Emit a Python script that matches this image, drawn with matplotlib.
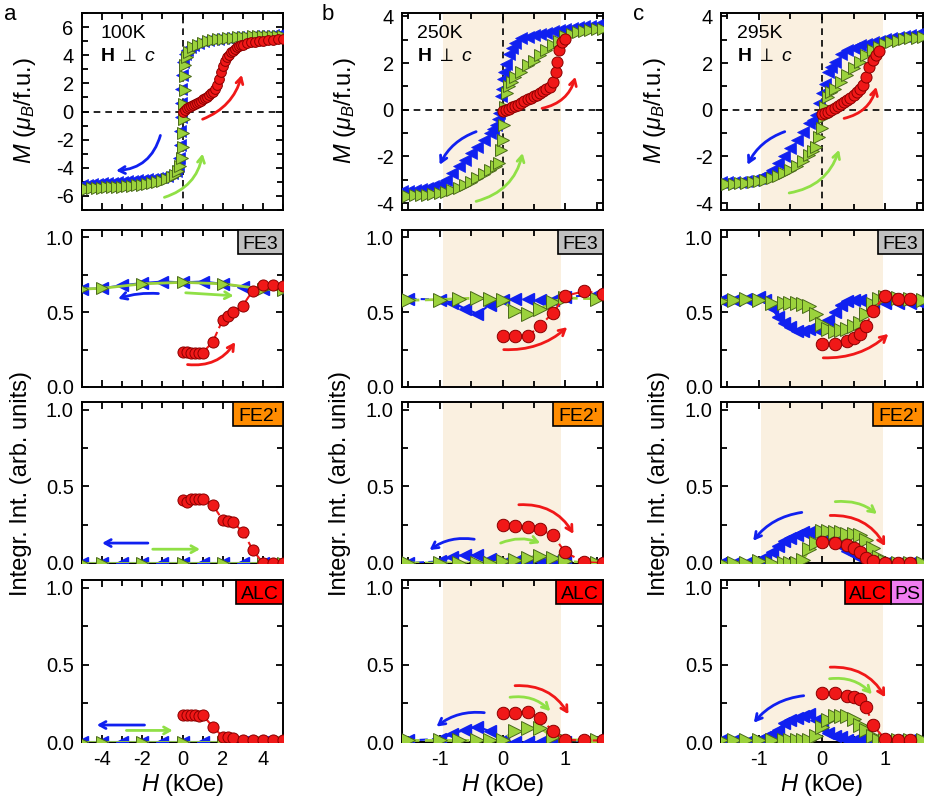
import matplotlib
matplotlib.use('Agg')
import matplotlib.pyplot as plt
from matplotlib.patches import Rectangle
from matplotlib.ticker import MultipleLocator

plt.rcParams['font.family'] = ['Liberation Sans', 'DejaVu Sans']
plt.rcParams['mathtext.fontset'] = 'custom'
plt.rcParams['mathtext.rm'] = 'Liberation Sans'
plt.rcParams['mathtext.it'] = 'Liberation Sans:italic'
plt.rcParams['mathtext.bf'] = 'Liberation Sans:bold'
plt.rcParams['axes.unicode_minus'] = False

BLUE = '#1020f0'
GREEN = '#9bd23c'
GREEN_EDGE = '#4a6a1a'
GREEN_ARROW = '#90e046'
RED = '#f01818'
RED_EDGE = '#8a0000'
SHADE = '#faf0e0'

# ---- magnetisation loops M(H) ----
# 100 K
Ha_dn = [5.0, 4.75, 4.5, 4.25, 4.0, 3.75, 3.5, 3.25, 3.0, 2.75, 2.5, 2.25, 2.0, 1.75, 1.5, 1.25, 1.0, 0.75, 0.5,
         0.35, 0.2, 0.1, 0.02, -0.02, -0.05, -0.07, -0.09, -0.11, -0.13, -0.15, -0.2, -0.3, -0.5, -0.75, -1.0,
         -1.25, -1.5, -1.75, -2.0, -2.25, -2.5, -2.75, -3.0, -3.25, -3.5, -3.75, -4.0, -4.25, -4.5, -4.75, -5.0]
Ma_dn = [5.45, 5.43, 5.41, 5.39, 5.38, 5.36, 5.34, 5.32, 5.3, 5.28, 5.26, 5.23, 5.2, 5.16, 5.12, 5.06, 5.0, 4.9,
         4.75, 4.6, 4.4, 4.1, 3.5, 2.6, 1.6, 0.6, -0.4, -1.4, -2.4, -3.3, -3.9, -4.2, -4.4, -4.55, -4.65,
         -4.72, -4.78, -4.83, -4.87, -4.9, -4.93, -4.96, -4.99, -5.02, -5.05, -5.08, -5.1, -5.13, -5.16, -5.19, -5.22]
Ha_up = [-5.0, -4.75, -4.5, -4.25, -4.0, -3.75, -3.5, -3.25, -3.0, -2.75, -2.5, -2.25, -2.0, -1.75, -1.5, -1.25,
         -1.0, -0.75, -0.5, -0.35, -0.2, -0.1, -0.02, 0.02, 0.04, 0.06, 0.08, 0.1, 0.12, 0.14, 0.2, 0.3, 0.5,
         0.75, 1.0, 1.25, 1.5, 1.75, 2.0, 2.25, 2.5, 2.75, 3.0, 3.25, 3.5, 3.75, 4.0, 4.25, 4.5, 4.75, 5.0]
Ma_up = [-5.5, -5.48, -5.46, -5.44, -5.42, -5.4, -5.38, -5.36, -5.33, -5.3, -5.27, -5.23, -5.19, -5.14, -5.08,
         -5.01, -4.93, -4.8, -4.63, -4.48, -4.25, -3.9, -3.3, -2.5, -1.5, -0.5, 0.5, 1.5, 2.5, 3.3, 3.9, 4.25,
         4.55, 4.75, 4.9, 5.0, 5.07, 5.13, 5.18, 5.22, 5.25, 5.28, 5.3, 5.32, 5.34, 5.35, 5.36, 5.37, 5.38, 5.39, 5.4]
Ha_vg = [0.0, 0.1, 0.2, 0.3, 0.4, 0.5, 0.6, 0.7, 0.8, 0.9, 1.0, 1.1, 1.2, 1.3, 1.4, 1.5, 1.6, 1.7, 1.8, 1.9, 2.0,
         2.1, 2.2, 2.3, 2.4, 2.5, 2.6, 2.7, 2.8, 2.9, 3.0, 3.2, 3.4, 3.6, 3.8, 4.0, 4.25, 4.5, 4.75, 5.0]
Ma_vg = [0.0, 0.12, 0.22, 0.3, 0.38, 0.46, 0.54, 0.62, 0.7, 0.78, 0.86, 0.95, 1.05, 1.15, 1.28, 1.42, 1.62, 1.9,
         2.3, 2.8, 3.25, 3.6, 3.85, 4.05, 4.2, 4.33, 4.45, 4.55, 4.63, 4.7, 4.76, 4.85, 4.92, 4.97, 5.01, 5.04,
         5.07, 5.1, 5.12, 5.14]

# 250 K
Hb_dn = [1.6, 1.5, 1.4, 1.3, 1.2, 1.1, 1.0, 0.9, 0.8, 0.7, 0.6, 0.5, 0.4, 0.3, 0.2, 0.15, 0.1, 0.06, 0.03, 0.01,
         -0.01, -0.03, -0.05, -0.07, -0.1, -0.15, -0.2, -0.3, -0.4, -0.5, -0.6, -0.7, -0.8, -0.9, -1.0, -1.1,
         -1.2, -1.3, -1.4, -1.5, -1.6]
Mb_dn = [3.66, 3.64, 3.61, 3.58, 3.55, 3.51, 3.47, 3.42, 3.37, 3.31, 3.26, 3.2, 3.14, 3.06, 2.85, 2.65, 2.4, 1.95,
         1.6, 1.3, 0.9, 0.6, -0.15, -0.4, -0.65, -0.82, -0.98, -1.3, -1.58, -1.86, -2.15, -2.43, -2.72, -3.0,
         -3.18, -3.28, -3.35, -3.4, -3.44, -3.47, -3.5]
Hb_up = [-1.6, -1.5, -1.4, -1.3, -1.2, -1.1, -1.0, -0.9, -0.8, -0.7, -0.6, -0.5, -0.4, -0.3, -0.2, -0.1, -0.05,
         -0.02, 0.0, 0.02, 0.04, 0.07, 0.1, 0.15, 0.2, 0.3, 0.4, 0.5, 0.6, 0.7, 0.8, 0.9, 1.0, 1.1, 1.2, 1.3,
         1.4, 1.5, 1.6]
Mb_up = [-3.7, -3.69, -3.67, -3.66, -3.64, -3.61, -3.57, -3.51, -3.43, -3.34, -3.22, -3.08, -2.93, -2.77, -2.58,
         -2.42, -2.3, -1.72, -1.3, -0.65, 0.13, 0.7, 1.0, 1.2, 1.4, 1.62, 1.9, 2.1, 2.33, 2.55, 2.76, 2.97, 3.15,
         3.26, 3.33, 3.39, 3.43, 3.46, 3.48]
Hb_vg = [0.0, 0.05, 0.1, 0.15, 0.2, 0.25, 0.3, 0.35, 0.4, 0.45, 0.5, 0.55, 0.6, 0.65, 0.7, 0.75, 0.8, 0.85,
         0.87, 0.9, 0.95, 1.0]
Mb_vg = [-0.05, 0.0, 0.05, 0.1, 0.15, 0.22, 0.3, 0.37, 0.44, 0.51, 0.58, 0.65, 0.72, 0.8, 0.88, 0.98, 1.2, 1.62,
         2.05, 2.55, 2.9, 3.05]

# 295 K
Hc_dn = [1.6, 1.5, 1.4, 1.3, 1.2, 1.1, 1.0, 0.9, 0.8, 0.7, 0.6, 0.5, 0.4, 0.3, 0.2, 0.15, 0.1, 0.05, 0.0, -0.05,
         -0.1, -0.15, -0.2, -0.3, -0.4, -0.5, -0.6, -0.7, -0.8, -0.9, -1.0, -1.1, -1.2, -1.3, -1.4, -1.5, -1.6]
Mc_dn = [3.26, 3.23, 3.2, 3.16, 3.12, 3.07, 3.02, 2.96, 2.9, 2.83, 2.76, 2.66, 2.55, 2.4, 2.05, 1.85, 1.62, 1.12,
         0.7, 0.27, -0.23, -0.42, -0.58, -0.94, -1.3, -1.65, -2.0, -2.3, -2.58, -2.8, -2.93, -3.01, -3.06, -3.08,
         -3.09, -3.1, -3.11]
Hc_up = [-1.6, -1.5, -1.4, -1.3, -1.2, -1.1, -1.0, -0.9, -0.8, -0.7, -0.6, -0.5, -0.4, -0.3, -0.2, -0.15, -0.1,
         -0.05, 0.0, 0.03, 0.05, 0.1, 0.15, 0.2, 0.3, 0.4, 0.5, 0.6, 0.7, 0.8, 0.9, 1.0, 1.1, 1.2, 1.3, 1.4, 1.5, 1.6]
Mc_up = [-3.2, -3.19, -3.18, -3.16, -3.15, -3.11, -3.07, -3.01, -2.93, -2.83, -2.72, -2.59, -2.43, -2.2, -1.94,
         -1.78, -1.58, -1.15, -0.8, -0.3, 0.13, 0.55, 0.75, 0.91, 1.2, 1.48, 1.77, 2.05, 2.33, 2.55, 2.69, 2.83,
         2.91, 2.97, 3.02, 3.06, 3.09, 3.12]
Hc_vg = [0.0, 0.05, 0.1, 0.15, 0.2, 0.25, 0.3, 0.35, 0.4, 0.45, 0.5, 0.55, 0.6, 0.65, 0.7, 0.75, 0.8, 0.85, 0.9]
Mc_vg = [-0.2, -0.14, -0.08, -0.01, 0.06, 0.14, 0.23, 0.32, 0.42, 0.52, 0.63, 0.76, 0.88, 1.05, 1.4, 1.84, 2.15,
         2.35, 2.5]

# ---- integrated intensities ----
# 100 K
Ia_dn = [5, 4, 3, 2, 1, 0, -1, -2, -3, -4, -5]
Ia_up = [-5, -4, -2, 0, 2, 4, 5]
Ia_vg = [0.0, 0.2, 0.4, 0.6, 0.8, 1.0, 1.5, 2.0, 2.25, 2.5, 3.0, 3.5, 4.0, 4.5, 5.0]
FE3_a_dn = [0.65, 0.655, 0.67, 0.69, 0.705, 0.70, 0.705, 0.695, 0.68, 0.66, 0.655]
FE3_a_up = [0.655, 0.66, 0.69, 0.70, 0.69, 0.655, 0.65]
FE3_a_vg = [0.235, 0.235, 0.23, 0.23, 0.23, 0.23, 0.30, 0.45, 0.475, 0.50, 0.545, 0.645, 0.685, 0.685, 0.675]
FE2_a_dn = [0.0, 0.0, 0.0, 0.0, 0.0, 0.0, 0.0, 0.0, 0.0, 0.0, 0.0]
FE2_a_up = [0.0, 0.0, 0.0, 0.0, 0.0, 0.0, 0.0]
FE2_a_vg = [0.41, 0.40, 0.42, 0.415, 0.415, 0.42, 0.38, 0.28, 0.275, 0.265, 0.205, 0.085, 0.0, 0.0, 0.0]
ALC_a_dn = [0.0, 0.0, 0.0, 0.0, 0.0, 0.0, 0.0, 0.0, 0.0, 0.0, 0.0]
ALC_a_up = [0.0, 0.0, 0.0, 0.0, 0.0, 0.0, 0.0]
ALC_a_vg = [0.175, 0.175, 0.175, 0.175, 0.17, 0.175, 0.10, 0.035, 0.03, 0.025, 0.015, 0.015, 0.015, 0.01, 0.01]

# 250 K
Ib_dn = [1.5, 1.0, 0.8, 0.6, 0.4, 0.2, 0.0, -0.2, -0.4, -0.6, -0.8, -1.0, -1.5]
Ib_up = [-1.5, -1.0, -0.7, -0.4, -0.2, 0.0, 0.2, 0.4, 0.6, 0.8, 1.0, 1.5]
Ib_vg = [0.0, 0.2, 0.4, 0.6, 0.8, 1.0, 1.3, 1.6]
FE3_b_dn = [0.62, 0.60, 0.58, 0.58, 0.59, 0.59, 0.585, 0.55, 0.49, 0.525, 0.565, 0.585, 0.59]
FE3_b_up = [0.58, 0.585, 0.59, 0.595, 0.59, 0.58, 0.505, 0.485, 0.52, 0.57, 0.595, 0.59]
FE3_b_vg = [0.34, 0.34, 0.34, 0.41, 0.495, 0.61, 0.64, 0.625]
FE2_b_dn = [0.0, 0.005, 0.01, 0.015, 0.01, 0.01, 0.0, 0.027, 0.05, 0.055, 0.04, 0.01, 0.0]
FE2_b_up = [0.0, 0.0, 0.0, 0.0, 0.0, 0.01, 0.02, 0.035, 0.045, 0.033, 0.01, 0.0]
FE2_b_vg = [0.245, 0.24, 0.235, 0.22, 0.18, 0.07, 0.005, 0.0]
ALC_b_dn = [0.01, 0.0, 0.0, 0.0, 0.0, 0.0, 0.01, 0.07, 0.10, 0.08, 0.05, 0.02, 0.01]
ALC_b_up = [0.01, 0.01, 0.01, 0.01, 0.01, 0.015, 0.07, 0.09, 0.09, 0.035, 0.015, 0.01]
ALC_b_vg = [0.185, 0.19, 0.195, 0.155, 0.07, 0.015, 0.01, 0.01]

# 295 K
Ic_dn = [1.6, 1.4, 1.2, 1.0, 0.8, 0.6, 0.5, 0.4, 0.3, 0.2, 0.1, 0.0, -0.1, -0.2, -0.3, -0.4, -0.5, -0.6, -0.7,
         -0.8, -0.9, -1.0, -1.2, -1.4, -1.6]
Ic_up = [-1.6, -1.4, -1.2, -1.0, -0.8, -0.6, -0.5, -0.4, -0.3, -0.2, -0.1, 0.0, 0.1, 0.2, 0.3, 0.4, 0.5, 0.6,
         0.7, 0.8, 0.9, 1.0, 1.2, 1.4, 1.6]
Ic_vg = [0.0, 0.2, 0.4, 0.5, 0.6, 0.7, 0.8, 1.0, 1.2, 1.4]
FE3_c_dn = [0.555, 0.56, 0.56, 0.56, 0.57, 0.58, 0.585, 0.575, 0.55, 0.50, 0.45, 0.41, 0.39, 0.385, 0.375, 0.375,
            0.40, 0.43, 0.47, 0.53, 0.58, 0.60, 0.59, 0.585, 0.58]
FE3_c_up = [0.575, 0.58, 0.59, 0.585, 0.565, 0.56, 0.56, 0.56, 0.555, 0.54, 0.49, 0.42, 0.39, 0.375, 0.38, 0.39,
            0.41, 0.43, 0.49, 0.555, 0.59, 0.60, 0.595, 0.59, 0.58]
FE3_c_vg = [0.285, 0.285, 0.31, 0.33, 0.355, 0.41, 0.51, 0.61, 0.59, 0.59]
FE2_c_dn = [0.0, 0.0, 0.0, 0.0, 0.01, 0.035, 0.06, 0.08, 0.11, 0.14, 0.17, 0.195, 0.2, 0.2, 0.2, 0.185, 0.165,
            0.145, 0.11, 0.07, 0.04, 0.015, 0.0, 0.0, 0.0]
FE2_c_up = [0.0, 0.0, 0.0, 0.015, 0.0, 0.0, 0.0, 0.0, 0.02, 0.09, 0.13, 0.21, 0.21, 0.2, 0.2, 0.19, 0.19, 0.185,
            0.15, 0.10, 0.04, 0.01, 0.0, 0.0, 0.0]
FE2_c_vg = [0.135, 0.13, 0.12, 0.10, 0.07, 0.035, 0.01, 0.0, 0.0, 0.0]
ALC_c_dn = [0.01, 0.01, 0.01, 0.005, 0.0, 0.01, 0.01, 0.015, 0.03, 0.04, 0.06, 0.09, 0.14, 0.18, 0.17, 0.155,
            0.14, 0.12, 0.08, 0.05, 0.03, 0.01, 0.0, 0.01, 0.01]
ALC_c_up = [0.01, 0.01, 0.01, 0.01, 0.01, 0.01, 0.01, 0.01, 0.01, 0.01, 0.04, 0.10, 0.14, 0.17, 0.17, 0.17, 0.15,
            0.11, 0.08, 0.04, 0.01, 0.01, 0.01, 0.01, 0.01]
ALC_c_vg = [0.315, 0.32, 0.30, 0.29, 0.28, 0.23, 0.11, 0.02, 0.01, 0.01]

temps = ['100K', '250K', '295K']
letters = ['a', 'b', 'c']

# ---- layout (pixels) ----
W, HP = 946, 798
fig = plt.figure(figsize=(W / 100, HP / 100), dpi=100)
col_px = [(82, 283), (402, 603), (721, 923)]
row_px = [(13, 210), (230, 387), (402, 563), (580, 742)]


def add_ax(c, r):
    l, rr = col_px[c]
    t, b = row_px[r]
    return fig.add_axes([l / W, 1 - b / HP, (rr - l) / W, (b - t) / HP])


def style(ax):
    for s in ax.spines.values():
        s.set_linewidth(1.4)
    ax.tick_params(which='both', direction='in', top=True, right=True, width=1.3, labelsize=14.5, pad=6)
    ax.tick_params(which='major', length=5)
    ax.tick_params(which='minor', length=4)


def arrow(ax, p0, p1, color, rad=0.0):
    ax.annotate('', xy=p1, xytext=p0,
                arrowprops=dict(arrowstyle='->,head_length=0.45,head_width=0.25', color=color, lw=2,
                                shrinkA=0, shrinkB=0, connectionstyle='arc3,rad=%s' % rad), zorder=8)


def tag(ax, label, fc, w_px, right_px=0, h_px=24):
    pos = ax.get_position()
    aw, ah = pos.width * W, pos.height * HP
    x1 = 1 - right_px / aw
    x0 = x1 - w_px / aw
    y0 = 1 - h_px / ah
    ax.add_patch(Rectangle((x0, y0), w_px / aw, h_px / ah, transform=ax.transAxes, fc=fc, ec='k', lw=1.2,
                           zorder=10, clip_on=False))
    ax.text((x0 + x1) / 2, y0 + 5 / ah, label, transform=ax.transAxes, ha='center', va='baseline',
            fontsize=14, zorder=11)


def mh(ax, Hd, Md, Hu, Mu, Hv, Mv, ms):
    ax.axhline(0, color='k', ls=(0, (4, 3)), lw=1.2, zorder=1)
    ax.axvline(0, color='k', ls=(0, (4, 3)), lw=1.2, zorder=1)
    ax.plot(Hd, Md, ls='none', marker='<', ms=ms, mfc=BLUE, mec=BLUE, mew=0.5, zorder=3)
    ax.plot(Hu, Mu, ls='none', marker='>', ms=ms, mfc=GREEN, mec=GREEN_EDGE, mew=0.7, zorder=4)
    ax.plot(Hv, Mv, ls='none', marker='o', ms=ms - 1, mfc=RED, mec=RED_EDGE, mew=0.7, zorder=5)


def inten(ax, Hd, yd, Hu, yu, Hv, yv, ls, ms):
    ax.plot(Hd, yd, ls=ls, lw=1.5, color=BLUE, marker='<', ms=ms - 1, mfc=BLUE, mec=BLUE, zorder=3)
    ax.plot(Hu, yu, ls=ls, lw=2, color=GREEN, marker='>', ms=ms, mfc=GREEN, mec=GREEN_EDGE, mew=0.7, zorder=4)
    ax.plot(Hv, yv, ls=(0, (4, 2)), lw=1.5, color=RED, marker='o', ms=ms - 1, mfc=RED, mec=RED_EDGE, mew=0.7,
            zorder=5)


mh_data = [(Ha_dn, Ma_dn, Ha_up, Ma_up, Ha_vg, Ma_vg),
           (Hb_dn, Mb_dn, Hb_up, Mb_up, Hb_vg, Mb_vg),
           (Hc_dn, Mc_dn, Hc_up, Mc_up, Hc_vg, Mc_vg)]
int_data = [
    [(Ia_dn, FE3_a_dn, Ia_up, FE3_a_up, Ia_vg, FE3_a_vg),
     (Ia_dn, FE2_a_dn, Ia_up, FE2_a_up, Ia_vg, FE2_a_vg),
     (Ia_dn, ALC_a_dn, Ia_up, ALC_a_up, Ia_vg, ALC_a_vg)],
    [(Ib_dn, FE3_b_dn, Ib_up, FE3_b_up, Ib_vg, FE3_b_vg),
     (Ib_dn, FE2_b_dn, Ib_up, FE2_b_up, Ib_vg, FE2_b_vg),
     (Ib_dn, ALC_b_dn, Ib_up, ALC_b_up, Ib_vg, ALC_b_vg)],
    [(Ic_dn, FE3_c_dn, Ic_up, FE3_c_up, Ic_vg, FE3_c_vg),
     (Ic_dn, FE2_c_dn, Ic_up, FE2_c_up, Ic_vg, FE2_c_vg),
     (Ic_dn, ALC_c_dn, Ic_up, ALC_c_up, Ic_vg, ALC_c_vg)],
]

# arrows: (row, col) -> list of (start, end, color, rad)
arrows = {
    (0, 0): [((-1.1, -1.7), (-3.3, -4.2), BLUE, -0.35), ((-0.9, -6.1), (1.0, -3.0), GREEN_ARROW, 0.3),
             ((1.0, -0.55), (2.95, 2.6), RED, 0.25)],
    (0, 1): [((-0.42, -0.94), (-1.0, -2.36), BLUE, 0.2), ((-0.42, -3.93), (0.32, -1.86), GREEN_ARROW, 0.3),
             ((0.63, 0.06), (1.16, 1.41), RED, 0.3)],
    (0, 2): [((-0.59, -0.94), (-1.18, -2.36), BLUE, 0.2), ((-0.52, -3.57), (0.27, -1.72), GREEN_ARROW, 0.3),
             ((0.35, -0.37), (0.86, 0.98), RED, 0.3)],
    (1, 0): [((-1.2, 0.625), (-3.2, 0.59), BLUE, 0.1), ((0.16, 0.63), (2.54, 0.61), GREEN_ARROW, 0.0),
             ((0.25, 0.15), (2.62, 0.30), RED, 0.3)],
    (1, 1): [((0.02, 0.25), (1.03, 0.4), RED, 0.2)],
    (1, 2): [((0.02, 0.195), (1.05, 0.355), RED, 0.2)],
    (2, 0): [((-1.72, 0.13), (-4.0, 0.13), BLUE, 0.0), ((-1.48, 0.09), (0.87, 0.09), GREEN_ARROW, 0.0)],
    (2, 1): [((-0.45, 0.155), (-1.16, 0.085), BLUE, 0.2), ((-0.03, 0.13), (0.6, 0.13), GREEN_ARROW, -0.2),
             ((0.26, 0.38), (1.13, 0.19), RED, -0.3)],
    (2, 2): [((-0.32, 0.33), (-1.09, 0.145), BLUE, 0.2), ((0.21, 0.40), (0.87, 0.32), GREEN_ARROW, -0.2),
             ((0.13, 0.31), (1.0, 0.11), RED, -0.3)],
    (3, 0): [((-1.89, 0.11), (-4.26, 0.11), BLUE, 0.0), ((-2.79, 0.075), (-0.49, 0.075), GREEN_ARROW, 0.0)],
    (3, 1): [((-0.29, 0.19), (-1.05, 0.10), BLUE, 0.2), ((0.12, 0.29), (0.76, 0.2), GREEN_ARROW, -0.25),
             ((0.2, 0.365), (1.05, 0.18), RED, -0.3)],
    (3, 2): [((-0.29, 0.3), (-1.08, 0.125), BLUE, 0.2), ((0.12, 0.41), (0.79, 0.31), GREEN_ARROW, -0.25),
             ((0.13, 0.485), (1.0, 0.29), RED, -0.3)],
}

shade = [None, (-0.95, 0.93), (-0.97, 0.96)]
temp_x = [0.09, 0.075, 0.08]
tags = [('FE3', '#c0c0c0', 45), ("FE2'", '#ff8c00', 50), ('ALC', '#ff0000', 47)]

for c in range(3):
    # magnetisation panel
    ax = add_ax(c, 0)
    style(ax)
    if shade[c]:
        ax.axvspan(*shade[c], color=SHADE, lw=0, zorder=0)
    mh(ax, *mh_data[c], ms=8 if c == 0 else 9)
    if c == 0:
        ax.set_xlim(-5, 5)
        ax.set_ylim(-7, 7)
        ax.xaxis.set_major_locator(MultipleLocator(2))
        ax.xaxis.set_minor_locator(MultipleLocator(1))
        ax.yaxis.set_major_locator(MultipleLocator(2))
        ax.yaxis.set_minor_locator(MultipleLocator(1))
    else:
        ax.set_xlim(-1.6, 1.6)
        ax.set_ylim(-4.3, 4.15)
        ax.xaxis.set_major_locator(MultipleLocator(1))
        ax.xaxis.set_minor_locator(MultipleLocator(0.5))
        ax.yaxis.set_major_locator(MultipleLocator(2))
        ax.yaxis.set_minor_locator(MultipleLocator(1))
    ax.tick_params(labelbottom=False)
    for p0, p1, col, rad in arrows.get((0, c), []):
        arrow(ax, p0, p1, col, rad)
    ax.text(temp_x[c], 0.94, temps[c], transform=ax.transAxes, ha='left', va='top', fontsize=14)
    ax.text(temp_x[c], 0.82, r'$\mathbf{H}$ $\perp$ $\mathit{c}$', transform=ax.transAxes, ha='left',
            va='top', fontsize=14)

    # intensity panels
    for r in range(3):
        ax = add_ax(c, r + 1)
        style(ax)
        if shade[c]:
            ax.axvspan(*shade[c], color=SHADE, lw=0, zorder=0)
        inten(ax, *int_data[c][r], ls='-' if c == 0 else (0, (4, 2)), ms=9 if c == 0 else 10)
        if c == 0:
            ax.set_xlim(-5, 5)
            ax.xaxis.set_major_locator(MultipleLocator(2))
            ax.xaxis.set_minor_locator(MultipleLocator(1))
        else:
            ax.set_xlim(-1.6, 1.6)
            ax.xaxis.set_major_locator(MultipleLocator(1))
            ax.xaxis.set_minor_locator(MultipleLocator(0.5))
        ax.set_ylim(0, 1.05)
        ax.yaxis.set_major_locator(MultipleLocator(0.5))
        ax.yaxis.set_minor_locator(MultipleLocator(0.25))
        ax.yaxis.set_major_formatter(matplotlib.ticker.FormatStrFormatter('%.1f'))
        if r < 2:
            ax.tick_params(labelbottom=False)
        for p0, p1, col, rad in arrows.get((r + 1, c), []):
            arrow(ax, p0, p1, col, rad)
        name, fc, w = tags[r]
        if c == 2 and r == 2:
            tag(ax, 'PS', '#f07cf0', 32)
            tag(ax, 'ALC', fc, 46, right_px=32)
        else:
            tag(ax, name, fc, w)

    # column labels
    cx = (col_px[c][0] + col_px[c][1]) / 2
    fig.text(cx / W, 1 - 785 / HP, r'$H$ (kOe)', ha='center', va='center', fontsize=17)
    mx = [25, 345, 655][c]
    fig.text(mx / W, 1 - 111 / HP, r'$M$ ($\mu_B$/f.u.)', ha='center', va='center', rotation=90, fontsize=17)
    ix = [21, 340, 659][c]
    fig.text(ix / W, 1 - 484 / HP, 'Integr. Int. (arb. units)', ha='center', va='center', rotation=90,
             fontsize=17)
    fig.text([4, 322, 633][c] / W, 1 - 4 / HP, letters[c], ha='left', va='top', fontsize=16)

fig.savefig('out.png', dpi=100)
plt.close(fig)
